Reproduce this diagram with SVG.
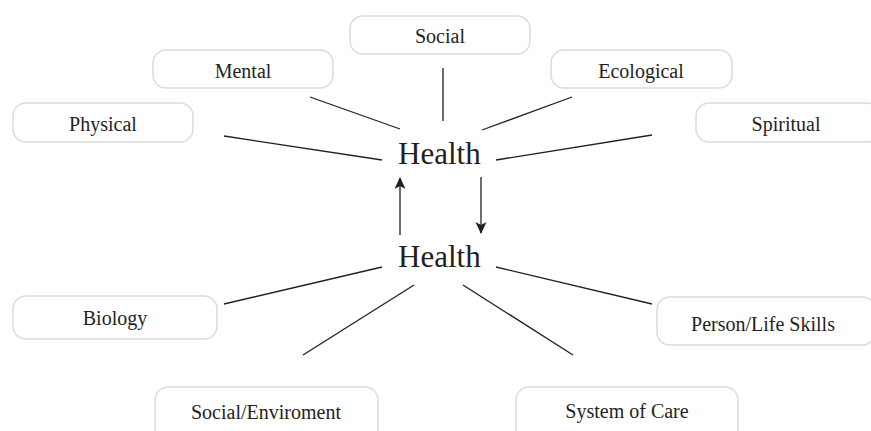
<svg xmlns="http://www.w3.org/2000/svg" width="871" height="431" viewBox="0 0 871 431">
<style>
.box{fill:#fff;stroke:#dcdcdc;stroke-width:1.5}
.lbl{font-family:"Liberation Serif",serif;font-size:20px;fill:#231f20;text-anchor:middle}
.hd{font-family:"Liberation Serif",serif;font-size:31px;fill:#231f20}
.ln{stroke:#231f20;stroke-width:1.3;fill:none}
</style>
<defs>
<marker id="ah" viewBox="0 0 12 16" refX="11" refY="8" markerWidth="12" markerHeight="16" markerUnits="userSpaceOnUse" orient="auto">
<path d="M0,2.5 L12,8 L0,13.5 L3,8 Z" fill="#231f20"/>
</marker>
</defs>
<rect width="871" height="431" fill="#fff"/>
<g id="social"><rect class="box" x="350" y="16" width="180" height="38" rx="13"/><text class="lbl" x="440" y="43">Social</text></g>
<g id="mental"><rect class="box" x="153" y="50" width="180" height="38" rx="13"/><text class="lbl" x="243" y="78">Mental</text></g>
<g id="ecological"><rect class="box" x="551" y="50" width="181" height="38" rx="13"/><text class="lbl" x="641" y="78">Ecological</text></g>
<g id="physical"><rect class="box" x="13" y="103" width="180" height="39" rx="13"/><text class="lbl" x="103" y="131">Physical</text></g>
<g id="spiritual"><rect class="box" x="696" y="103" width="184" height="39" rx="13"/><text class="lbl" x="786" y="131">Spiritual</text></g>
<g id="health-top"><text class="hd" x="398" y="164">Health</text></g>
<g id="health-bottom"><text class="hd" x="398" y="267">Health</text></g>
<g id="biology"><rect class="box" x="13" y="296" width="204" height="43" rx="13"/><text class="lbl" x="115" y="325">Biology</text></g>
<g id="person"><rect class="box" x="657" y="297" width="218" height="48" rx="13"/><text class="lbl" x="763" y="331">Person/Life Skills</text></g>
<g id="social-env"><rect class="box" x="155" y="387" width="223" height="60" rx="13"/><text class="lbl" x="266" y="419">Social/Enviroment</text></g>
<g id="system-care"><rect class="box" x="516" y="387" width="222" height="60" rx="13"/><text class="lbl" x="627" y="418">System of Care</text></g>
<g id="connectors">
<line class="ln" x1="443" y1="68" x2="443" y2="121"/>
<line class="ln" x1="310" y1="97" x2="400" y2="129"/>
<line class="ln" x1="224" y1="136" x2="382" y2="160"/>
<line class="ln" x1="572" y1="97" x2="482" y2="130"/>
<line class="ln" x1="652" y1="135" x2="496" y2="160"/>
<line class="ln" x1="481" y1="177" x2="481" y2="233" marker-end="url(#ah)"/>
<line class="ln" x1="400" y1="235" x2="400" y2="178" marker-end="url(#ah)"/>
<line class="ln" x1="382" y1="267" x2="224" y2="304"/>
<line class="ln" x1="414" y1="285" x2="303" y2="355"/>
<line class="ln" x1="496" y1="267" x2="652" y2="304"/>
<line class="ln" x1="463" y1="285" x2="573" y2="355"/>
</g>
</svg>
